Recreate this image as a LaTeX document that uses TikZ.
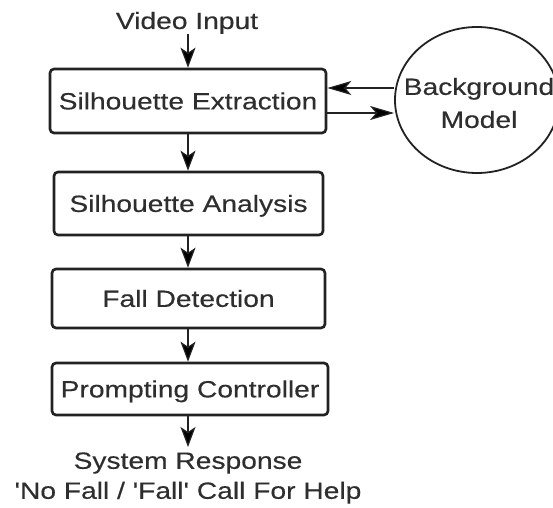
\documentclass[tikz,border=0pt]{standalone}
\usepackage{fontspec}
\setmainfont{Liberation Sans}[FakeStretch=1.2, FakeBold=0.3, Ligatures=TeXOff]
\usetikzlibrary{shapes.geometric,arrows.meta}

\definecolor{ink}{HTML}{222222}
\definecolor{txt}{HTML}{2e2e2e}

\tikzset{
  stage/.style={draw=ink, line width=1.3pt, rounded corners=2pt, fill=white,
    inner sep=0pt, text height=8.4pt, text depth=0pt, font=\fontsize{11.75}{13}\selectfont,
    text=txt},
  label/.style={inner sep=0pt, font=\fontsize{11.75}{15}\selectfont, text=txt, align=center},
  flow/.style={draw=ink, line width=0.9pt,
    -{Stealth[length=10pt, width=7.5pt, inset=2.5pt, fill=black, line width=0.6pt]}},
  sideflow/.style={draw=ink, line width=0.9pt,
    -{Stealth[length=12pt, width=7pt, inset=3pt, fill=black, line width=0.6pt]}},
}

\begin{document}
\begin{tikzpicture}[x=0.5pt, y=-0.5pt]
  \useasboundingbox (0,0) rectangle (553,508);

  % input label
  \node[label, anchor=base] (vin) at (187,29) {Video Input};

  % processing chain
  \node[stage, minimum width=138pt, minimum height=32pt] (ex) at (188,101) {Silhouette Extraction};
  \node[stage, minimum width=134.5pt, minimum height=31.5pt] (an) at (188.5,203.5) {Silhouette Analysis};
  \node[stage, minimum width=136.5pt, minimum height=29.5pt] (fd) at (188.5,298.5) {Fall Detection};
  \node[stage, minimum width=138pt, minimum height=26pt] (pc) at (190,389) {Prompting Controller};

  % background model
  \node[ellipse, draw=ink, line width=0.9pt, inner sep=0pt,
        minimum width=82pt, minimum height=73pt] (bg) at (477,100) {};
  \node[label, font=\fontsize{11.75}{16.5}\selectfont] (bgt) at (479,103) {Background\\Model};

  % system response
  \node[label, anchor=north, inner ysep=2.5pt] (resp) at (188,447) {System Response\\'No Fall / 'Fall' Call For Help};

  % helper heights for the two links with the background model
  \coordinate (upper) at (0,88);
  \coordinate (lower) at (0,113);

  % connectors
  \draw[flow] (ex.north |- vin.south) -- (ex.north);
  \draw[flow] (ex.south) -- (ex.south |- an.north);
  \draw[flow] (ex.south |- an.south) -- (ex.south |- fd.north);
  \draw[flow] (ex.south |- fd.south) -- (ex.south |- pc.north);
  \draw[flow] (ex.south |- pc.south) -- (ex.south |- resp.north);
  \draw[sideflow] (bg.west |- upper) -- (ex.east |- upper);
  \draw[sideflow] (ex.east |- lower) -- (bg.west |- lower);
\end{tikzpicture}
\end{document}
